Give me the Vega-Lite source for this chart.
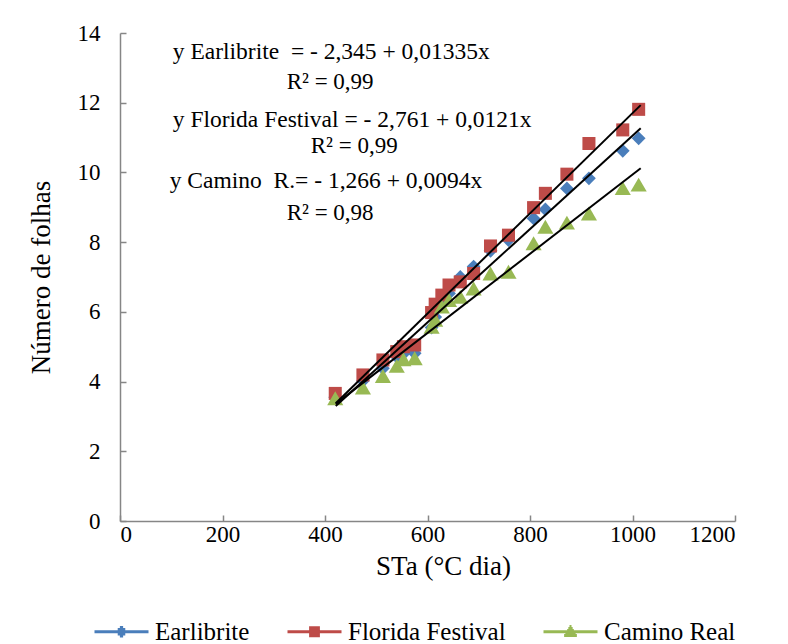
{
  "$schema": "https://vega.github.io/schema/vega-lite/v6.json",
  "width": 615,
  "height": 488,
  "autosize": {"type": "none"},
  "padding": {"left": 120, "top": 33, "right": 53, "bottom": 123},
  "background": "white",
  "config": {
    "view": {"stroke": null},
    "font": "Liberation Serif",
    "axis": {
      "grid": false,
      "domainColor": "#868686",
      "domainWidth": 1.5,
      "tickColor": "#868686",
      "tickWidth": 1.5,
      "tickSize": -6,
      "labelFont": "Liberation Serif",
      "labelFontSize": 23,
      "labelColor": "black",
      "titleFont": "Liberation Serif",
      "titleFontSize": 27,
      "titleFontWeight": "normal",
      "titleColor": "black"
    },
    "legend": {
      "labelFont": "Liberation Serif",
      "labelFontSize": 25,
      "labelColor": "black"
    }
  },
  "datasets": {
    "points": [
      {"cultivar": "Earlibrite", "sta": 420, "folhas": 3.55},
      {"cultivar": "Earlibrite", "sta": 474, "folhas": 4.02},
      {"cultivar": "Earlibrite", "sta": 513, "folhas": 4.38},
      {"cultivar": "Earlibrite", "sta": 540, "folhas": 4.71},
      {"cultivar": "Earlibrite", "sta": 553, "folhas": 4.8},
      {"cultivar": "Earlibrite", "sta": 575, "folhas": 4.81},
      {"cultivar": "Earlibrite", "sta": 608, "folhas": 5.55},
      {"cultivar": "Earlibrite", "sta": 615, "folhas": 5.85},
      {"cultivar": "Earlibrite", "sta": 628, "folhas": 6.2},
      {"cultivar": "Earlibrite", "sta": 642, "folhas": 6.53},
      {"cultivar": "Earlibrite", "sta": 664, "folhas": 7.0},
      {"cultivar": "Earlibrite", "sta": 690, "folhas": 7.3},
      {"cultivar": "Earlibrite", "sta": 723, "folhas": 7.75},
      {"cultivar": "Earlibrite", "sta": 758, "folhas": 8.06},
      {"cultivar": "Earlibrite", "sta": 807, "folhas": 8.68},
      {"cultivar": "Earlibrite", "sta": 830, "folhas": 8.94},
      {"cultivar": "Earlibrite", "sta": 872, "folhas": 9.54},
      {"cultivar": "Earlibrite", "sta": 915, "folhas": 9.83},
      {"cultivar": "Earlibrite", "sta": 981, "folhas": 10.62},
      {"cultivar": "Earlibrite", "sta": 1012, "folhas": 10.98},
      {"cultivar": "Florida Festival", "sta": 420, "folhas": 3.66},
      {"cultivar": "Florida Festival", "sta": 474, "folhas": 4.19},
      {"cultivar": "Florida Festival", "sta": 513, "folhas": 4.62},
      {"cultivar": "Florida Festival", "sta": 540, "folhas": 4.86},
      {"cultivar": "Florida Festival", "sta": 553, "folhas": 5.0},
      {"cultivar": "Florida Festival", "sta": 575, "folhas": 5.05},
      {"cultivar": "Florida Festival", "sta": 608, "folhas": 5.98},
      {"cultivar": "Florida Festival", "sta": 615, "folhas": 6.22},
      {"cultivar": "Florida Festival", "sta": 628, "folhas": 6.48},
      {"cultivar": "Florida Festival", "sta": 642, "folhas": 6.77},
      {"cultivar": "Florida Festival", "sta": 664, "folhas": 6.86},
      {"cultivar": "Florida Festival", "sta": 690, "folhas": 7.1},
      {"cultivar": "Florida Festival", "sta": 723, "folhas": 7.89},
      {"cultivar": "Florida Festival", "sta": 758, "folhas": 8.2},
      {"cultivar": "Florida Festival", "sta": 807, "folhas": 8.99},
      {"cultivar": "Florida Festival", "sta": 830, "folhas": 9.4},
      {"cultivar": "Florida Festival", "sta": 872, "folhas": 9.95},
      {"cultivar": "Florida Festival", "sta": 915, "folhas": 10.83},
      {"cultivar": "Florida Festival", "sta": 981, "folhas": 11.22},
      {"cultivar": "Florida Festival", "sta": 1012, "folhas": 11.81},
      {"cultivar": "Camino Real", "sta": 420, "folhas": 3.52},
      {"cultivar": "Camino Real", "sta": 474, "folhas": 3.83},
      {"cultivar": "Camino Real", "sta": 513, "folhas": 4.16},
      {"cultivar": "Camino Real", "sta": 540, "folhas": 4.45},
      {"cultivar": "Camino Real", "sta": 553, "folhas": 4.64},
      {"cultivar": "Camino Real", "sta": 575, "folhas": 4.67},
      {"cultivar": "Camino Real", "sta": 608, "folhas": 5.57},
      {"cultivar": "Camino Real", "sta": 615, "folhas": 5.77},
      {"cultivar": "Camino Real", "sta": 628, "folhas": 6.15},
      {"cultivar": "Camino Real", "sta": 642, "folhas": 6.34},
      {"cultivar": "Camino Real", "sta": 664, "folhas": 6.43},
      {"cultivar": "Camino Real", "sta": 690, "folhas": 6.67},
      {"cultivar": "Camino Real", "sta": 723, "folhas": 7.1},
      {"cultivar": "Camino Real", "sta": 758, "folhas": 7.15},
      {"cultivar": "Camino Real", "sta": 807, "folhas": 7.97},
      {"cultivar": "Camino Real", "sta": 830, "folhas": 8.44},
      {"cultivar": "Camino Real", "sta": 872, "folhas": 8.56},
      {"cultivar": "Camino Real", "sta": 915, "folhas": 8.82},
      {"cultivar": "Camino Real", "sta": 981, "folhas": 9.55},
      {"cultivar": "Camino Real", "sta": 1012, "folhas": 9.65}
    ],
    "fits": [
      {"cultivar": "Earlibrite", "sta": 421, "folhas": 3.3},
      {"cultivar": "Earlibrite", "sta": 1016, "folhas": 11.27},
      {"cultivar": "Florida Festival", "sta": 421, "folhas": 3.38},
      {"cultivar": "Florida Festival", "sta": 1016, "folhas": 11.93},
      {"cultivar": "Camino Real", "sta": 421, "folhas": 3.36},
      {"cultivar": "Camino Real", "sta": 1016, "folhas": 10.12}
    ],
    "equations": [
      {"sta": 103, "folhas": 13.45, "label": "y Earlibrite\u00a0 = - 2,345 + 0,01335x"},
      {"sta": 103, "folhas": 11.5, "label": "y Florida Festival = - 2,761 + 0,0121x"},
      {"sta": 97, "folhas": 9.75, "label": "y Camino\u00a0 R.= - 1,266 + 0,0094x"}
    ],
    "r2": [
      {"sta": 410, "folhas": 12.59, "label": "R² = 0,99"},
      {"sta": 457, "folhas": 10.76, "label": "R² = 0,99"},
      {"sta": 410, "folhas": 8.84, "label": "R² = 0,98"}
    ]
  },
  "layer": [
    {
      "data": {"name": "points"},
      "transform": [{"filter": "datum.cultivar === 'Earlibrite'"}],
      "mark": {"type": "point", "shape": "diamond", "size": 190, "filled": true, "opacity": 1, "strokeWidth": 0},
      "encoding": {
        "x": {
          "field": "sta", "type": "quantitative",
          "scale": {"domain": [0, 1200], "nice": false},
          "axis": {"values": [0, 200, 400, 600, 800, 1000, 1200], "format": "d", "title": "STa (°C dia)", "labelPadding": 8, "titlePadding": 7, "titleX": 323}
        },
        "y": {
          "field": "folhas", "type": "quantitative",
          "scale": {"domain": [0, 14], "nice": false},
          "axis": {"values": [0, 2, 4, 6, 8, 10, 12, 14], "format": "d", "title": "Número de folhas", "labelPadding": 26, "titlePadding": 22}
        },
        "color": {
          "field": "cultivar", "type": "nominal",
          "scale": {"domain": ["Camino Real", "Earlibrite", "Florida Festival"], "range": ["#98B954", "#4A7EBB", "#BE4B48"]},
          "legend": null
        }
      }
    },
    {
      "data": {"name": "points"},
      "transform": [{"filter": "datum.cultivar === 'Florida Festival'"}],
      "mark": {"type": "point", "shape": "square", "size": 170, "filled": true, "opacity": 1, "strokeWidth": 0},
      "encoding": {
        "x": {"field": "sta", "type": "quantitative"},
        "y": {"field": "folhas", "type": "quantitative"},
        "color": {"field": "cultivar", "type": "nominal", "legend": null}
      }
    },
    {
      "data": {"name": "points"},
      "transform": [{"filter": "datum.cultivar === 'Camino Real'"}],
      "mark": {"type": "point", "shape": "triangle-up", "size": 260, "filled": true, "opacity": 1, "strokeWidth": 0},
      "encoding": {
        "x": {"field": "sta", "type": "quantitative"},
        "y": {"field": "folhas", "type": "quantitative"},
        "color": {"field": "cultivar", "type": "nominal", "legend": null}
      }
    },
    {
      "data": {"name": "fits"},
      "mark": {"type": "line", "color": "black", "strokeWidth": 2},
      "encoding": {
        "x": {"field": "sta", "type": "quantitative"},
        "y": {"field": "folhas", "type": "quantitative"},
        "detail": {"field": "cultivar", "type": "nominal"}
      }
    },
    {
      "data": {"name": "fits"},
      "mark": {"type": "point", "filled": false, "opacity": 0, "strokeWidth": 3},
      "encoding": {
        "x": {"field": "sta", "type": "quantitative"},
        "y": {"field": "folhas", "type": "quantitative"},
        "stroke": {
          "field": "cultivar", "type": "nominal",
          "scale": {"domain": ["Earlibrite", "Florida Festival", "Camino Real"], "range": ["#4A7EBB", "#BE4B48", "#98B954"]},
          "legend": {
            "title": null,
            "orient": "none",
            "direction": "horizontal",
            "legendX": -27,
            "legendY": 570,
            "padding": 0,
            "symbolSize": 2916,
            "symbolStrokeWidth": 3,
            "symbolOpacity": 1,
            "labelOffset": 5,
            "columnPadding": 31,
            "encode": {
              "symbols": {
                "size": {"value": 2916},
                "strokeWidth": {"value": 3},
                "opacity": {"value": 1}
              }
            }
          }
        },
        "shape": {
          "field": "cultivar", "type": "nominal",
          "scale": {"domain": ["Earlibrite", "Florida Festival", "Camino Real"], "range": [
            "M-1,0H1M-0.06,-0.16H0.06M-0.14,-0.08H0.14M-0.14,0.08H0.14M-0.06,0.16H0.06",
            "M-1,0H1M-0.2,-0.15H0.2M-0.2,-0.075H0.2M-0.2,0.075H0.2M-0.2,0.15H0.2",
            "M-1,0H1M-0.037,-0.19H0.037M-0.08,-0.12H0.08M-0.123,-0.05H0.123M-0.19,0.06H0.19M-0.236,0.135H0.236"
          ]},
          "legend": {
            "title": null,
            "orient": "none",
            "direction": "horizontal",
            "legendX": -27,
            "legendY": 570,
            "padding": 0,
            "symbolSize": 2916,
            "symbolStrokeWidth": 3,
            "symbolOpacity": 1,
            "labelOffset": 5,
            "columnPadding": 31,
            "encode": {
              "symbols": {
                "size": {"value": 2916},
                "strokeWidth": {"value": 3},
                "opacity": {"value": 1}
              }
            }
          }
        }
      }
    },
    {
      "data": {"name": "equations"},
      "mark": {"type": "text", "align": "left", "baseline": "middle", "font": "Liberation Serif", "fontSize": 23.5, "color": "black"},
      "encoding": {
        "x": {"field": "sta", "type": "quantitative"},
        "y": {"field": "folhas", "type": "quantitative"},
        "text": {"field": "label"}
      }
    },
    {
      "data": {"name": "r2"},
      "mark": {"type": "text", "align": "center", "baseline": "middle", "font": "Liberation Serif", "fontSize": 23, "color": "black"},
      "encoding": {
        "x": {"field": "sta", "type": "quantitative"},
        "y": {"field": "folhas", "type": "quantitative"},
        "text": {"field": "label"}
      }
    }
  ]
}
